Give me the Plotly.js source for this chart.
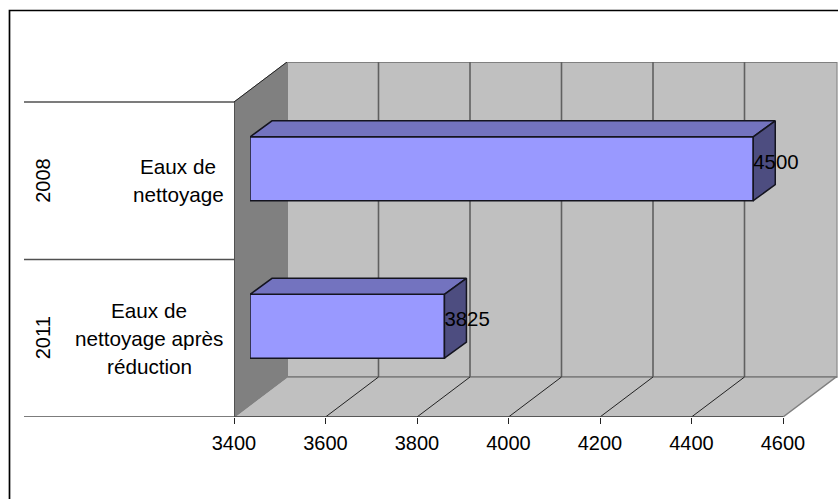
<!DOCTYPE html>
<html><head><meta charset="utf-8">
<script src="https://cdn.plot.ly/plotly-3.0.1.min.js"></script>
<style>html,body{margin:0;padding:0;background:#fff}#c{width:838px;height:499px}</style>
</head><body><div id="c"></div>
<script>
// Data
var groups = ["2011", "2008"];
var categories = [["Eaux de", "nettoyage après", "réduction"], ["Eaux de", "nettoyage"]];
var values = [3825, 4500];
var tickValues = [3400, 3600, 3800, 4000, 4200, 4400, 4600];
var axisMin = 3400, axisMax = 4600;

// Layout geometry (pixels of the picture)
var W = 838, H = 499;
var pxLeft = 234, pxRight = 783, pxFloor = 417, pxBandTop = 102;
var wallDx = 53, wallDy = 40;        // depth of the whole box
var barShiftX = 16, barShiftY = 12;  // bar front plane within the box
var barDx = 22, barDy = 16;          // depth of a bar
var pxTop = pxBandTop - wallDy, pxEnd = 837.5;
var pxPerX = (pxRight - pxLeft) / (axisMax - axisMin);
var pxPerY = (pxFloor - pxBandTop) / groups.length;
var barWidth = 0.405;
var lineStep = 28;

var yMin = -0.5, yMax = yMin + (pxFloor - pxTop) / pxPerY;
var xMaxFull = axisMin + (pxEnd - pxLeft) / pxPerX;
var x2Max = axisMin + (pxEnd - pxLeft - barShiftX) / pxPerX;
var y2Max = yMin + (pxFloor - barShiftY - pxTop) / pxPerY;
var depthX = wallDx / pxPerX, depthY = wallDy / pxPerY;
var bDepthX = barDx / pxPerX, bDepthY = barDy / pxPerY;
var FONT = "Liberation Sans, Arial, sans-serif";

var ys = groups.map(function (g, i) { return i; });

// Side and top faces of bars
var topX = [], topY = [], sideX = [], sideY = [];
values.forEach(function (v, i) {
  var t = i + barWidth / 2, b = i - barWidth / 2;
  topX.push(axisMin, axisMin + bDepthX, v + bDepthX, v, axisMin, null);
  topY.push(t, t + bDepthY, t + bDepthY, t, t, null);
  sideX.push(v, v + bDepthX, v + bDepthX, v, v, null);
  sideY.push(t, t + bDepthY, b + bDepthY, b, t, null);
});
var edge = {color: "#14141f", width: 1.5};
var traces = [
  {type: "bar", orientation: "h", x: values.map(function (v) { return v - axisMin; }), base: axisMin, y: ys,
   width: barWidth, xaxis: "x2", yaxis: "y2", marker: {color: "#9999FF", line: edge}, hoverinfo: "skip"},
  {type: "scatter", mode: "lines", x: topX, y: topY, fill: "toself", fillcolor: "#7373BF", line: edge,
   xaxis: "x2", yaxis: "y2", hoverinfo: "skip"},
  {type: "scatter", mode: "lines", x: sideX, y: sideY, fill: "toself", fillcolor: "#4D4D80", line: edge,
   xaxis: "x2", yaxis: "y2", hoverinfo: "skip"},
  {type: "scatter", mode: "text", x: values, y: ys.map(function (i) { return i + 5 / pxPerY; }),
   text: values.map(String), textposition: "middle right", textfont: {family: FONT, size: 20.4, color: "#000"},
   xaxis: "x2", yaxis: "y2", hoverinfo: "skip", cliponaxis: false}
];

// Box: walls, floor, gridlines, axis lines
function poly(pts, fill, lineColor, lw) {
  var p = pts.map(function (q, i) { return (i ? "L" : "M") + q[0] + "," + q[1]; }).join(" ") + " Z";
  return {type: "path", xref: "x", yref: "y", path: p, fillcolor: fill, line: {color: lineColor, width: lw}, layer: "below"};
}
function seg(x0, y0, x1, y1, c, w, xref) {
  return {type: "line", xref: xref || "x", yref: "y", x0: x0, y0: y0, x1: x1, y1: y1, line: {color: c, width: w}, layer: "below"};
}
var xB = xMaxFull, shapes = [];
shapes.push(poly([[axisMin + depthX, yMin + depthY], [axisMin + depthX, yMax], [xB, yMax], [xB, yMin + depthY]], "#C0C0C0", "#808080", 2));
shapes.push(poly([[axisMin, yMin], [axisMax, yMin], [axisMax + depthX, yMin + depthY], [axisMin + depthX, yMin + depthY]], "#C0C0C0", "#808080", 1.5));
shapes.push(poly([[axisMin, yMin], [axisMin, yMax - depthY], [axisMin + depthX, yMax], [axisMin + depthX, yMin + depthY]], "#808080", "#808080", 1));
tickValues.forEach(function (t) {
  if (t > axisMin && t < axisMax) {
    shapes.push(seg(t + depthX, yMin + depthY, t + depthX, yMax, "#606060", 1.6));
    shapes.push(seg(t, yMin, t + depthX, yMin + depthY, "#222222", 1));
  }
});
shapes.push(seg(axisMin, yMax - depthY, axisMin + depthX, yMax, "#222222", 1));
shapes.push(seg(axisMin, yMin, axisMin, yMax - depthY, "#222222", 1));
shapes.push(seg(axisMin, yMin, axisMax, yMin, "#444444", 1.6));
// Category separators, drawn in paper x
var sepX0 = 24 / W, sepX1 = pxLeft / W;
[yMin, yMin + 1, yMin + 2].forEach(function (y) {
  shapes.push(seg(sepX0, y, sepX1, y, "#505050", 1.6, "paper"));
});
// Outer frame: runs off the right and bottom of the picture
shapes.push({type: "rect", xref: "paper", yref: "paper", x0: 9.5 / W, x1: 1.02, y0: -0.02, y1: 1 - 10.5 / H,
  line: {color: "#000", width: 1.7}, fillcolor: "rgba(0,0,0,0)", layer: "below"});

// Labels
var anns = [];
groups.forEach(function (g, i) {
  anns.push({xref: "paper", yref: "y", x: 43 / W, y: i, text: g, textangle: -90, showarrow: false,
    font: {family: FONT, size: 20, color: "#000"}, xanchor: "center", yanchor: "middle"});
});
categories.forEach(function (lines, i) {
  var cx = (i === 0 ? 149 : 178) / W;
  lines.forEach(function (line, k) {
    var off = ((lines.length - 1) / 2 - k) * lineStep / pxPerY;
    anns.push({xref: "paper", yref: "y", x: cx, y: i + off, text: line, showarrow: false, align: "center",
      font: {family: FONT, size: 20.7, color: "#000"}, xanchor: "center", yanchor: "middle"});
  });
});

var layout = {
  width: W, height: H, margin: {l: 0, r: 0, t: 0, b: 0}, paper_bgcolor: "#fff", plot_bgcolor: "rgba(0,0,0,0)",
  showlegend: false, shapes: shapes, annotations: anns,
  xaxis: {domain: [pxLeft / W, pxEnd / W], range: [axisMin, xMaxFull], anchor: "y", tickmode: "array", tickvals: tickValues,
    ticktext: tickValues.map(String), ticks: "outside", ticklen: 6, tickcolor: "#222", tickwidth: 1, showgrid: false, zeroline: false,
    showline: false, ticklabelstandoff: 2, tickfont: {family: FONT, size: 20, color: "#000"}},
  yaxis: {domain: [1 - pxFloor / H, 1 - pxTop / H], range: [yMin, yMax], anchor: "x", showticklabels: false, ticks: "", showgrid: false, zeroline: false, showline: false},
  xaxis2: {domain: [(pxLeft + barShiftX) / W, pxEnd / W], range: [axisMin, x2Max], anchor: "y2", visible: false},
  yaxis2: {domain: [1 - (pxFloor - barShiftY) / H, 1 - pxTop / H], range: [yMin, y2Max], anchor: "x2", visible: false},
  bargap: 0
};
Plotly.newPlot("c", traces, layout, {displayModeBar: false, staticPlot: true});
</script></body></html>
